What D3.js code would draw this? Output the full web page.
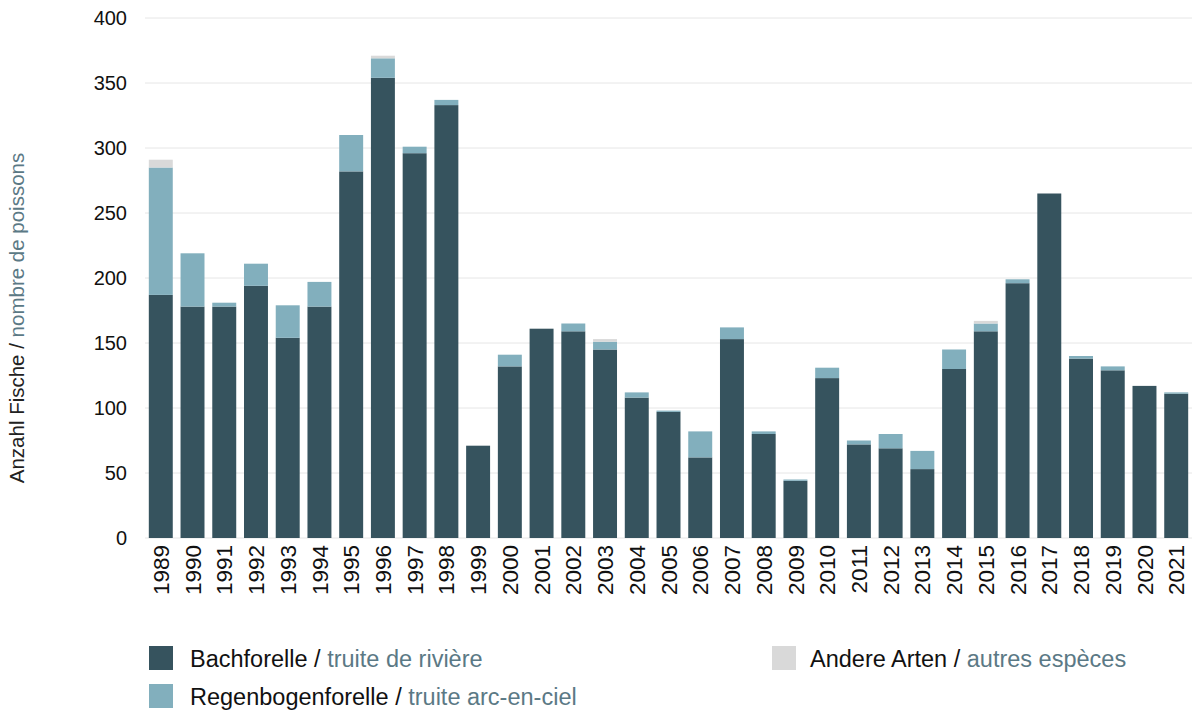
<!DOCTYPE html>
<html><head><meta charset="utf-8">
<script src="https://cdn.jsdelivr.net/npm/d3@7/dist/d3.min.js"></script>
<style>
body{margin:0;background:#fff;}
svg{display:block;font-family:"Liberation Sans",Arial,Helvetica,sans-serif;}
</style></head>
<body><svg id="c" width="1192" height="713"></svg>
<script>
const years = ["1989","1990","1991","1992","1993","1994","1995","1996","1997","1998","1999","2000","2001","2002","2003","2004","2005","2006","2007","2008","2009","2010","2011","2012","2013","2014","2015","2016","2017","2018","2019","2020","2021"];
const bachforelle = [187,178,178,194,154,178,282,354,296,333,71,132,161,159,145,108,97,62,153,80,44,123,72,69,53,130,159,196,265,138,129,117,111];
const regenbogen  = [98,41,3,17,25,19,28,15,5,4,0,9,0,6,6,4,1,20,9,2,1,8,3,11,14,15,6,3,0,2,3,0,1];
const andere      = [6,0,0,0,0,0,0,2,0,0,0,0,0,0,2,0,0,0,0,0,0,0,0,0,0,0,2,0,0,0,0,0,0];
const yTicks = [0,50,100,150,200,250,300,350,400];
const seriesKeys = ["bach","regen","andere"];
const seriesColors = ["#36535e","#82afbd","#d9d9d9"];
const legendDe = ["Bachforelle","Regenbogenforelle","Andere Arten"];
const legendFr = ["truite de rivière","truite arc-en-ciel","autres espèces"];

const table = years.map((y,i)=>({year:y,bach:bachforelle[i],regen:regenbogen[i],andere:andere[i]}));
const svg = d3.select("#c");
const x = d3.scaleBand().domain(years).range([145,1192]).paddingInner(0.245).paddingOuter(0.12);
const y = d3.scaleLinear().domain([0,400]).range([538,18]);

// gridlines
svg.append("g").selectAll("line").data(yTicks).join("line")
  .attr("x1",145).attr("x2",1192).attr("y1",d=>y(d)).attr("y2",d=>y(d))
  .attr("stroke","#e6e6e6").attr("stroke-width",1);

// y axis
const ya = svg.append("g").attr("transform","translate(145,0)")
  .call(d3.axisLeft(y).tickValues(yTicks).tickSize(0).tickPadding(18));
ya.select(".domain").remove();
ya.selectAll("text").attr("font-size",20).attr("fill","#111").attr("font-family","Liberation Sans, Arial, sans-serif");

// stacked bars
const stack = d3.stack().keys(seriesKeys)(table);
svg.append("g").selectAll("g").data(stack).join("g")
  .attr("fill",(d,i)=>seriesColors[i])
  .selectAll("rect").data(d=>d.filter(p=>p[1]-p[0]>0)).join("rect")
  .attr("x",d=>x(d.data.year)).attr("width",x.bandwidth())
  .attr("y",d=>y(d[1])).attr("height",d=>y(d[0])-y(d[1]));

// x axis
const xa = svg.append("g").attr("transform","translate(0,538)")
  .call(d3.axisBottom(x).tickSize(0).tickPadding(0));
xa.select(".domain").remove();
xa.selectAll(".tick text").attr("font-size",22.5).attr("fill","#111").attr("font-family","Liberation Sans, Arial, sans-serif")
  .attr("transform","rotate(-90)").attr("text-anchor","end").attr("dx","-7").attr("dy","0.36em").attr("x",0).attr("y",0);

// y title
const yt = svg.append("text").attr("transform","translate(24,318) rotate(-90)")
  .attr("text-anchor","middle").attr("font-size",20.5);
yt.append("tspan").attr("fill","#222").text("Anzahl Fische / ");
yt.append("tspan").attr("fill","#5b7985").text("nombre de poissons");

// legend
const legPos = [[149,646],[149,684],[772,646]];
legendDe.forEach((t,i)=>{
  const [lx,ly] = legPos[i];
  svg.append("rect").attr("x",lx).attr("y",ly).attr("width",24).attr("height",24).attr("fill",seriesColors[i]);
  const tx = svg.append("text").attr("x",lx+(i===2?38:41)).attr("y",ly+21).attr("font-size",23.5);
  tx.append("tspan").attr("fill","#111").text(t+" / ");
  tx.append("tspan").attr("fill","#5b7985").text(legendFr[i]);
});
</script></body></html>
